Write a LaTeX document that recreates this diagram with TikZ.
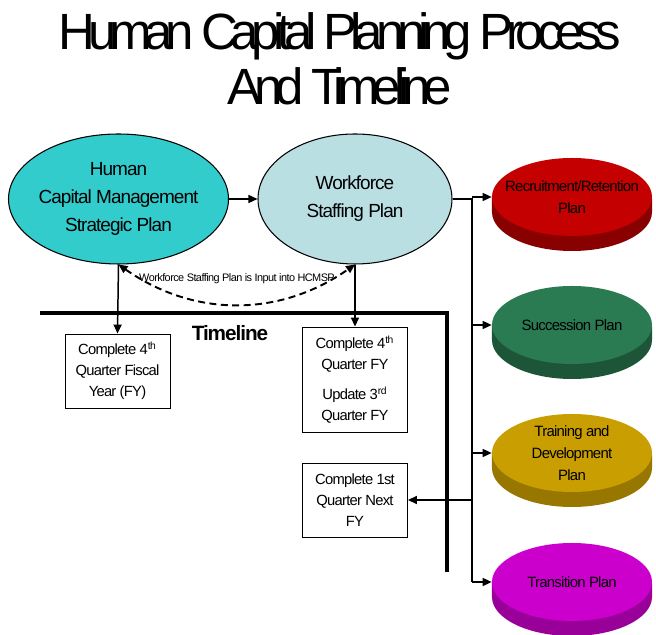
\documentclass[tikz,border=0pt]{standalone}
\usepackage{fontspec}
\setmainfont{Liberation Sans}[LetterSpace=-5]
\newfontfamily\titlefont{Liberation Sans}[LetterSpace=-14]
\usetikzlibrary{shapes.geometric,arrows.meta}
\definecolor{hcteal}{HTML}{33CCCC}
\definecolor{wsblue}{HTML}{B9DFE3}
\definecolor{rrred}{HTML}{C40000}
\definecolor{spgreen}{HTML}{2A7A52}
\definecolor{tdgold}{HTML}{C99E00}
\definecolor{trmag}{HTML}{CC00CC}
\begin{document}
\begin{tikzpicture}[
  ttl/.style={anchor=base, font={\titlefont\fontsize{29}{34}\selectfont}},
  oval/.style={ellipse, draw, line width=0.6pt, inner xsep=-2pt, inner ysep=0pt, align=center, font=\fontsize{10.8}{15.9}\selectfont},
  puck/.style={ellipse, minimum width=3.2cm, minimum height=1.56cm, inner xsep=-0.3cm, inner ysep=0pt, align=center, font=\fontsize{8.5}{12.5}\selectfont},
  qbox/.style={draw, line width=0.5pt, minimum width=2.1cm, align=center, font=\fontsize{8.4}{12}\selectfont},
  conn/.style={line width=0.85pt},
  arr/.style={conn, -{Triangle[length=1.8mm,width=1.6mm]}}
]
   \useasboundingbox (0,0) rectangle (13.12,12.7);
   \node[ttl] (t1) at (6.79,11.7) {Human Capital Planning Process};
   \node[ttl] (t2) at (6.8,10.6) {And Timeline};
   % plans on top
   \node[oval, fill=hcteal, minimum width=4.4cm, minimum height=2.6cm] (hcmsp) at (2.37,8.72) {Human\\Capital Management\\Strategic Plan};
   \node[oval, fill=wsblue, minimum width=3.88cm, minimum height=2.6cm] (wsp) at (7.1,8.72) {Workforce\\Staffing Plan};
   \draw[arr] (hcmsp) -- (wsp);
   \draw[conn, line width=1.1pt, dash pattern=on 4pt off 2.5pt, {Triangle[length=1.8mm,width=1.6mm]}-{Triangle[length=1.8mm,width=1.6mm]}] (hcmsp.south) to[bend right=35] (wsp.south);
   \node[font=\fontsize{6.2}{7}\selectfont] (inp) at (4.74,7.12) {Workforce Staffing Plan is Input into HCMSP};
   % timeline
   \draw[line width=2.3pt] (0.8,6.44) -- (8.94,6.44) -- (8.94,1.26);
   \node[font=\bfseries\fontsize{11.8}{14}\selectfont] (tl) at (4.6,6.04) {Timeline};
   \node[qbox, minimum height=1.48cm] (q1) at (2.35,5.28) {Complete 4\textsuperscript{th}\\Quarter Fiscal\\Year (FY)};
   \node[qbox, minimum height=2.1cm] (q2) at (7.1,5.11) {Complete 4\textsuperscript{th}\\Quarter FY\\[5pt]Update 3\textsuperscript{rd}\\Quarter FY};
   \node[qbox, minimum height=1.48cm] (q3) at (7.1,2.7) {Complete 1st\\Quarter Next\\FY};
   \draw[arr] (hcmsp.south) -- (q1.north);
   \draw[arr] (wsp.south) -- (q2.north);
   % the four plans, rims first
   \fill[rrred!70!black] (9.84,8.76) -- (9.84,8.46) arc[start angle=180,end angle=360,x radius=1.6,y radius=0.78] -- (13.04,8.76) -- cycle;
   \fill[spgreen!70!black] (9.84,6.2) -- (9.84,5.9) arc[start angle=180,end angle=360,x radius=1.6,y radius=0.78] -- (13.04,6.2) -- cycle;
   \fill[tdgold!75!black] (9.84,3.64) -- (9.84,3.34) arc[start angle=180,end angle=360,x radius=1.6,y radius=0.78] -- (13.04,3.64) -- cycle;
   \fill[trmag!75!black] (9.84,1.06) -- (9.84,0.76) arc[start angle=180,end angle=360,x radius=1.6,y radius=0.78] -- (13.04,1.06) -- cycle;
   \node[puck, fill=rrred] (rr) at (11.44,8.76) {Recruitment/Retention\\Plan};
   \node[puck, fill=spgreen] (sp) at (11.44,6.2) {Succession Plan};
   \node[puck, fill=tdgold] (td) at (11.44,3.64) {Training and\\Development\\Plan};
   \node[puck, fill=trmag] (tp) at (11.44,1.06) {Transition Plan};
   \coordinate (tk) at (9.44,8.72);
   \draw[conn] (wsp.east) -- (tk) -- (tk |- tp.west);
   \draw[arr] (tk |- rr.west) -- (rr.west);
   \draw[arr] (tk |- sp.west) -- (sp.west);
   \draw[arr] (tk |- td.west) -- (td.west);
   \draw[arr] (tk |- tp.west) -- (tp.west);
   \draw[arr] (tk |- q3.east) -- (q3.east);
  \end{tikzpicture}
\end{document}
